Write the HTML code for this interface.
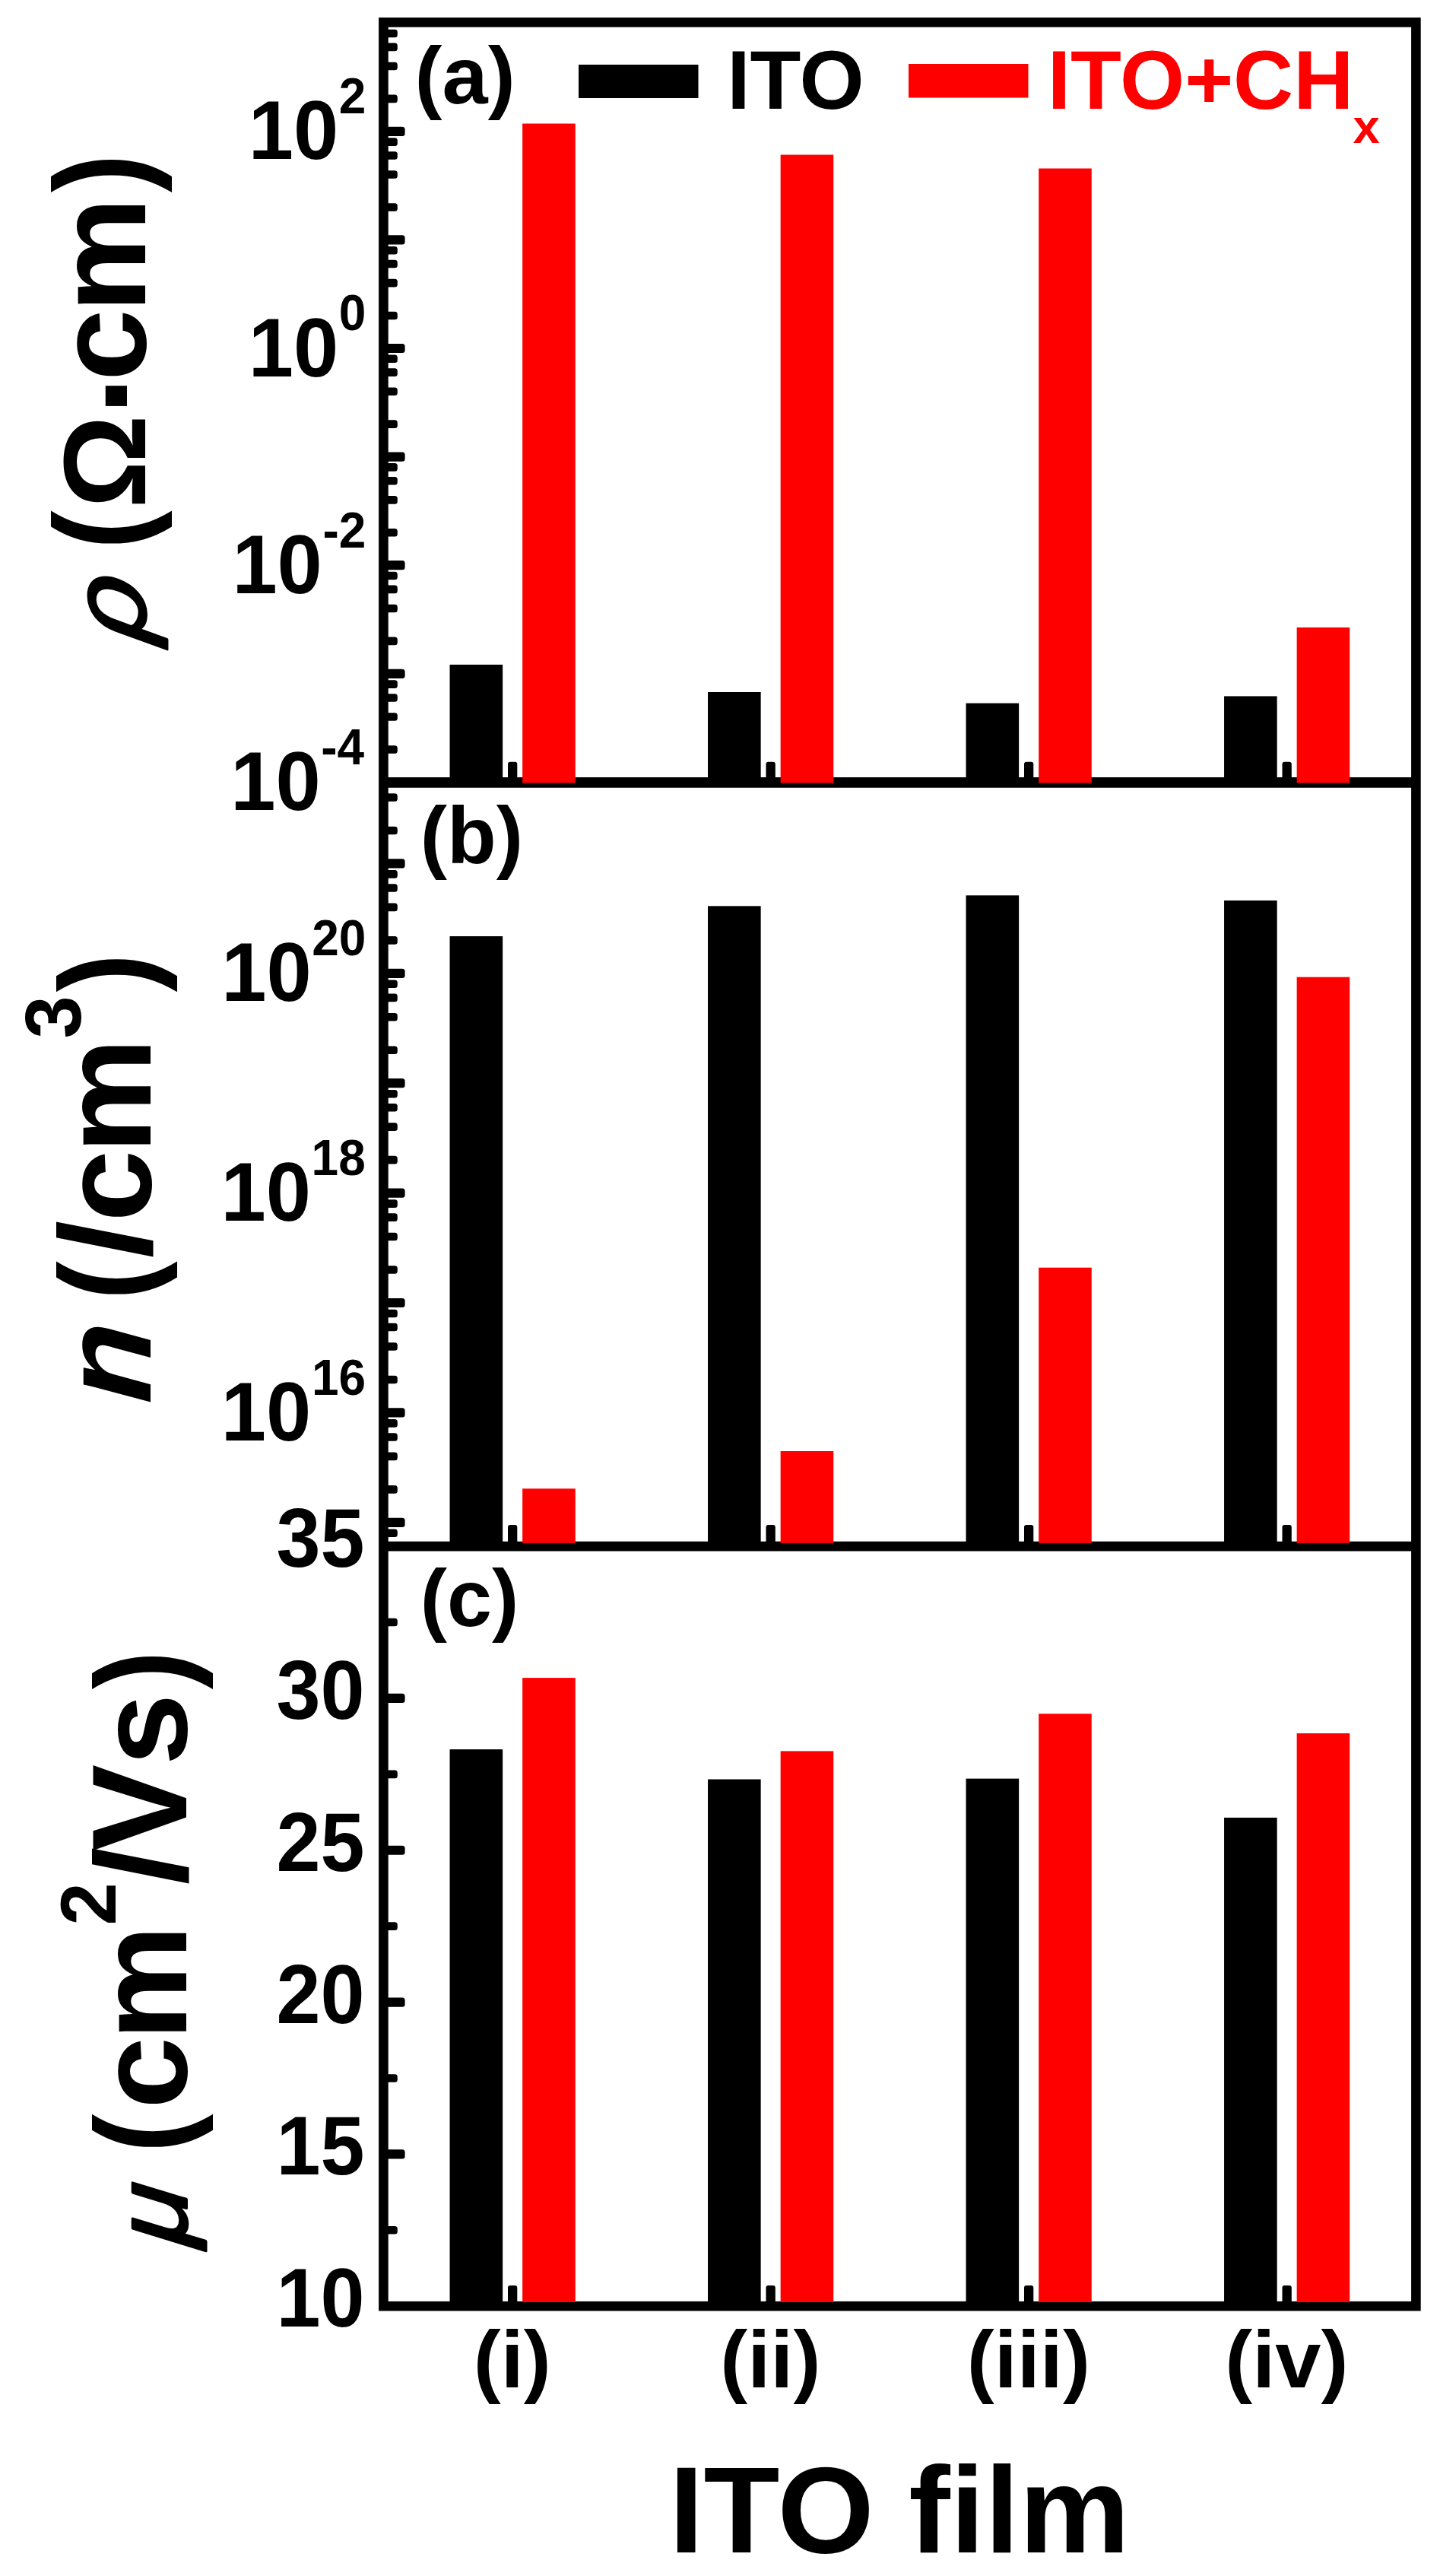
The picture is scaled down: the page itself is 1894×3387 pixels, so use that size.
<!DOCTYPE html>
<html lang="en"><head><meta charset="utf-8"><title>ITO film: resistivity, carrier density, mobility</title>
<style>html,body{margin:0;padding:0;background:#fff}svg{display:block;filter:blur(0.7px)}</style></head>
<body>
<svg width="1894" height="3387" viewBox="0 0 1894 3387" font-family="'Liberation Sans', sans-serif" font-weight="bold" fill="#000">
<rect x="0" y="0" width="1894" height="3387" fill="#fff"/>
<g id="axes" stroke="#000" fill="none">
<rect x="504.4" y="29.4" width="1358" height="3002.8" stroke-width="12.6"/>
<line x1="504.4" x2="1862.4" y1="1028.8" y2="1028.8" stroke-width="13.8"/>
<line x1="504.4" x2="1862.4" y1="2033.1" y2="2033.1" stroke-width="12.8"/>
</g>
<g id="ticks" fill="#000">
<rect x="504.4" y="980.17" width="18.4" height="10.6" rx="3.5"/>
<rect x="504.4" y="937.25" width="18.4" height="10.6" rx="3.5"/>
<rect x="504.4" y="912.14" width="18.4" height="10.6" rx="3.5"/>
<rect x="504.4" y="894.32" width="18.4" height="10.6" rx="3.5"/>
<rect x="504.4" y="879.7" width="28.2" height="12.2" rx="3.5"/>
<rect x="504.4" y="837.57" width="18.4" height="10.6" rx="3.5"/>
<rect x="504.4" y="794.65" width="18.4" height="10.6" rx="3.5"/>
<rect x="504.4" y="769.54" width="18.4" height="10.6" rx="3.5"/>
<rect x="504.4" y="751.72" width="18.4" height="10.6" rx="3.5"/>
<rect x="504.4" y="737.1" width="28.2" height="12.2" rx="3.5"/>
<rect x="504.4" y="694.97" width="18.4" height="10.6" rx="3.5"/>
<rect x="504.4" y="652.05" width="18.4" height="10.6" rx="3.5"/>
<rect x="504.4" y="626.94" width="18.4" height="10.6" rx="3.5"/>
<rect x="504.4" y="609.12" width="18.4" height="10.6" rx="3.5"/>
<rect x="504.4" y="594.5" width="28.2" height="12.2" rx="3.5"/>
<rect x="504.4" y="552.37" width="18.4" height="10.6" rx="3.5"/>
<rect x="504.4" y="509.45" width="18.4" height="10.6" rx="3.5"/>
<rect x="504.4" y="484.34" width="18.4" height="10.6" rx="3.5"/>
<rect x="504.4" y="466.52" width="18.4" height="10.6" rx="3.5"/>
<rect x="504.4" y="451.9" width="28.2" height="12.2" rx="3.5"/>
<rect x="504.4" y="409.77" width="18.4" height="10.6" rx="3.5"/>
<rect x="504.4" y="366.85" width="18.4" height="10.6" rx="3.5"/>
<rect x="504.4" y="341.74" width="18.4" height="10.6" rx="3.5"/>
<rect x="504.4" y="323.92" width="18.4" height="10.6" rx="3.5"/>
<rect x="504.4" y="309.3" width="28.2" height="12.2" rx="3.5"/>
<rect x="504.4" y="267.17" width="18.4" height="10.6" rx="3.5"/>
<rect x="504.4" y="224.25" width="18.4" height="10.6" rx="3.5"/>
<rect x="504.4" y="199.14" width="18.4" height="10.6" rx="3.5"/>
<rect x="504.4" y="181.32" width="18.4" height="10.6" rx="3.5"/>
<rect x="504.4" y="166.7" width="28.2" height="12.2" rx="3.5"/>
<rect x="504.4" y="124.57" width="18.4" height="10.6" rx="3.5"/>
<rect x="504.4" y="81.65" width="18.4" height="10.6" rx="3.5"/>
<rect x="504.4" y="56.54" width="18.4" height="10.6" rx="3.5"/>
<rect x="504.4" y="38.72" width="18.4" height="10.6" rx="3.5"/>
<rect x="504.4" y="2010.49" width="18.4" height="10.6" rx="3.5"/>
<rect x="504.4" y="1995.7" width="28.2" height="12.2" rx="3.5"/>
<rect x="504.4" y="1953.03" width="18.4" height="10.6" rx="3.5"/>
<rect x="504.4" y="1909.56" width="18.4" height="10.6" rx="3.5"/>
<rect x="504.4" y="1884.13" width="18.4" height="10.6" rx="3.5"/>
<rect x="504.4" y="1866.09" width="18.4" height="10.6" rx="3.5"/>
<rect x="504.4" y="1851.3" width="28.2" height="12.2" rx="3.5"/>
<rect x="504.4" y="1808.63" width="18.4" height="10.6" rx="3.5"/>
<rect x="504.4" y="1765.16" width="18.4" height="10.6" rx="3.5"/>
<rect x="504.4" y="1739.73" width="18.4" height="10.6" rx="3.5"/>
<rect x="504.4" y="1721.69" width="18.4" height="10.6" rx="3.5"/>
<rect x="504.4" y="1706.9" width="28.2" height="12.2" rx="3.5"/>
<rect x="504.4" y="1664.23" width="18.4" height="10.6" rx="3.5"/>
<rect x="504.4" y="1620.76" width="18.4" height="10.6" rx="3.5"/>
<rect x="504.4" y="1595.33" width="18.4" height="10.6" rx="3.5"/>
<rect x="504.4" y="1577.29" width="18.4" height="10.6" rx="3.5"/>
<rect x="504.4" y="1562.5" width="28.2" height="12.2" rx="3.5"/>
<rect x="504.4" y="1519.83" width="18.4" height="10.6" rx="3.5"/>
<rect x="504.4" y="1476.36" width="18.4" height="10.6" rx="3.5"/>
<rect x="504.4" y="1450.93" width="18.4" height="10.6" rx="3.5"/>
<rect x="504.4" y="1432.89" width="18.4" height="10.6" rx="3.5"/>
<rect x="504.4" y="1418.1" width="28.2" height="12.2" rx="3.5"/>
<rect x="504.4" y="1375.43" width="18.4" height="10.6" rx="3.5"/>
<rect x="504.4" y="1331.96" width="18.4" height="10.6" rx="3.5"/>
<rect x="504.4" y="1306.53" width="18.4" height="10.6" rx="3.5"/>
<rect x="504.4" y="1288.49" width="18.4" height="10.6" rx="3.5"/>
<rect x="504.4" y="1273.7" width="28.2" height="12.2" rx="3.5"/>
<rect x="504.4" y="1231.03" width="18.4" height="10.6" rx="3.5"/>
<rect x="504.4" y="1187.56" width="18.4" height="10.6" rx="3.5"/>
<rect x="504.4" y="1162.13" width="18.4" height="10.6" rx="3.5"/>
<rect x="504.4" y="1144.09" width="18.4" height="10.6" rx="3.5"/>
<rect x="504.4" y="1129.3" width="28.2" height="12.2" rx="3.5"/>
<rect x="504.4" y="1086.63" width="18.4" height="10.6" rx="3.5"/>
<rect x="504.4" y="1043.16" width="18.4" height="10.6" rx="3.5"/>
<rect x="504.4" y="2127.71" width="18.4" height="10.6" rx="3.5"/>
<rect x="504.4" y="2226.82" width="28.2" height="12.2" rx="3.5"/>
<rect x="504.4" y="2327.53" width="18.4" height="10.6" rx="3.5"/>
<rect x="504.4" y="2426.64" width="28.2" height="12.2" rx="3.5"/>
<rect x="504.4" y="2527.35" width="18.4" height="10.6" rx="3.5"/>
<rect x="504.4" y="2626.46" width="28.2" height="12.2" rx="3.5"/>
<rect x="504.4" y="2727.17" width="18.4" height="10.6" rx="3.5"/>
<rect x="504.4" y="2826.28" width="28.2" height="12.2" rx="3.5"/>
<rect x="504.4" y="2926.99" width="18.4" height="10.6" rx="3.5"/>
<rect x="668" y="1001.7" width="12.3" height="27.1" rx="3"/>
<rect x="1007.5" y="1001.7" width="12.3" height="27.1" rx="3"/>
<rect x="1347" y="1001.7" width="12.3" height="27.1" rx="3"/>
<rect x="1686.5" y="1001.7" width="12.3" height="27.1" rx="3"/>
<rect x="668" y="2005" width="12.3" height="28.1" rx="3"/>
<rect x="1007.5" y="2005" width="12.3" height="28.1" rx="3"/>
<rect x="1347" y="2005" width="12.3" height="28.1" rx="3"/>
<rect x="1686.5" y="2005" width="12.3" height="28.1" rx="3"/>
<rect x="668" y="3005" width="12.3" height="27.2" rx="3"/>
<rect x="1007.5" y="3005" width="12.3" height="27.2" rx="3"/>
<rect x="1347" y="3005" width="12.3" height="27.2" rx="3"/>
<rect x="1686.5" y="3005" width="12.3" height="27.2" rx="3"/>
</g>
<g id="bars">
<rect x="591.55" y="873.9" width="69.6" height="154.9"/>
<rect x="687.15" y="162.5" width="69.6" height="866.9" fill="#ff0000"/>
<rect x="931.05" y="910" width="69.6" height="118.8"/>
<rect x="1026.65" y="203.5" width="69.6" height="825.9" fill="#ff0000"/>
<rect x="1270.55" y="924.6" width="69.6" height="104.2"/>
<rect x="1366.15" y="221.5" width="69.6" height="807.9" fill="#ff0000"/>
<rect x="1610.05" y="915.4" width="69.6" height="113.4"/>
<rect x="1705.65" y="825" width="69.6" height="204.4" fill="#ff0000"/>
<rect x="591.55" y="1231" width="69.6" height="802.1"/>
<rect x="687.15" y="1957.3" width="69.6" height="71.6" fill="#ff0000"/>
<rect x="931.05" y="1191.3" width="69.6" height="841.8"/>
<rect x="1026.65" y="1908" width="69.6" height="120.9" fill="#ff0000"/>
<rect x="1270.55" y="1177.3" width="69.6" height="855.8"/>
<rect x="1366.15" y="1666.7" width="69.6" height="362.2" fill="#ff0000"/>
<rect x="1610.05" y="1184" width="69.6" height="849.1"/>
<rect x="1705.65" y="1284.7" width="69.6" height="744.2" fill="#ff0000"/>
<rect x="591.55" y="2300.1" width="69.6" height="732.1"/>
<rect x="687.15" y="2206.1" width="69.6" height="820.9" fill="#ff0000"/>
<rect x="931.05" y="2339.5" width="69.6" height="692.7"/>
<rect x="1026.65" y="2302.4" width="69.6" height="724.6" fill="#ff0000"/>
<rect x="1270.55" y="2338.6" width="69.6" height="693.6"/>
<rect x="1366.15" y="2253.3" width="69.6" height="773.7" fill="#ff0000"/>
<rect x="1610.05" y="2389.9" width="69.6" height="642.3"/>
<rect x="1705.65" y="2279" width="69.6" height="748" fill="#ff0000"/>
</g>
<g id="legend">
<rect x="761" y="85" width="157.5" height="44"/>
<rect x="1195" y="84" width="157.5" height="44.5" fill="#ff0000"/>
<text x="956.18" y="143" font-size="109.5">ITO</text>
<text x="1377.68" y="143" font-size="109.5" fill="#ff0000">ITO+CH</text>
<text x="1779.57" y="187.5" font-size="63.5" fill="#ff0000">x</text>
</g>
<text transform="translate(545.62 135.5) scale(1.02 1)" font-size="106">(a)</text>
<text x="552.72" y="1134.5" font-size="106">(b)</text>
<text x="552.72" y="2138" font-size="106">(c)</text>
<g id="ylabels">
<text transform="translate(445.77 149.1) scale(1 1.03)" font-size="64">2</text>
<text transform="translate(326.71 209.4) scale(1 1.03)" font-size="106.5">10</text>
<text transform="translate(445.83 434.3) scale(1 1.03)" font-size="64">0</text>
<text transform="translate(326.77 494.6) scale(1 1.03)" font-size="106.5">10</text>
<text transform="translate(424.46 719.5) scale(1 1.03)" font-size="64">-2</text>
<text transform="translate(305.4 779.8) scale(1 1.03)" font-size="106.5">10</text>
<text transform="translate(422.24 1004.7) scale(1 1.03)" font-size="64">-4</text>
<text transform="translate(303.18 1065) scale(1 1.03)" font-size="106.5">10</text>
<text transform="translate(410.24 1256.1) scale(1 1.03)" font-size="64">20</text>
<text transform="translate(291.18 1316.4) scale(1 1.03)" font-size="106.5">10</text>
<text transform="translate(409.58 1544.9) scale(1 1.03)" font-size="64">18</text>
<text transform="translate(290.52 1605.2) scale(1 1.03)" font-size="106.5">10</text>
<text transform="translate(409.93 1833.7) scale(1 1.03)" font-size="64">16</text>
<text transform="translate(290.86 1894) scale(1 1.03)" font-size="106.5">10</text>
<text transform="translate(479.6 2060.1) scale(0.98 1.03)" font-size="106.5" text-anchor="end">35</text>
<text transform="translate(479.6 2259.92) scale(0.98 1.03)" font-size="106.5" text-anchor="end">30</text>
<text transform="translate(479.6 2459.74) scale(0.98 1.03)" font-size="106.5" text-anchor="end">25</text>
<text transform="translate(479.6 2659.56) scale(0.98 1.03)" font-size="106.5" text-anchor="end">20</text>
<text transform="translate(479.6 2859.38) scale(0.98 1.03)" font-size="106.5" text-anchor="end">15</text>
<text transform="translate(479.6 3059.2) scale(0.98 1.03)" font-size="106.5" text-anchor="end">10</text>
</g>
<g id="xlabels">
<text transform="translate(622.83 3138.8) scale(1.02 1)" font-size="106">(i)</text>
<text transform="translate(947.31 3138.8) scale(1.02 1)" font-size="106">(ii)</text>
<text transform="translate(1271.79 3138.8) scale(1.02 1)" font-size="106">(iii)</text>
<text transform="translate(1611.26 3138.8) scale(1.02 1)" font-size="106">(iv)</text>
</g>
<text transform="translate(880.05 3355.5) scale(1.01 1)" font-size="162">ITO film</text>
<g id="ytitles">
<text transform="translate(190.7 852.5) rotate(-90) skewX(-20) scale(1.05 1)" font-size="139" stroke="#000" stroke-width="3.2" stroke-linejoin="round" font-weight="normal">ρ</text>
<text transform="translate(190.7 722.21) rotate(-90) scale(0.9 1)" font-size="170">(</text>
<text transform="translate(190.7 668.6) rotate(-90)" font-size="153.6">Ω</text>
<text transform="translate(215.9 546.9) rotate(-90)" font-size="190">·</text>
<text transform="translate(190.7 500.9) rotate(-90) scale(1 0.985)" font-size="170">c</text>
<text transform="translate(190.7 410.81) rotate(-90) scale(1 0.985)" font-size="170">m</text>
<text transform="translate(190.7 253.24) rotate(-90) scale(0.9 1)" font-size="170">)</text>
<text transform="translate(197.8 1846.5) rotate(-90) skewX(-4) scale(1.02 1)" font-size="167" font-style="italic">n</text>
<text transform="translate(197.8 1709.21) rotate(-90) scale(0.9 1)" font-size="170">(</text>
<text transform="translate(197.8 1654.3) rotate(-90) scale(1.05 1)" font-size="170">/</text>
<text transform="translate(197.8 1606.4) rotate(-90) scale(1 0.985)" font-size="170">c</text>
<text transform="translate(197.8 1516.21) rotate(-90) scale(1 0.985)" font-size="170">m</text>
<text transform="translate(105.6 1365.62) rotate(-90) scale(1 1.02)" font-size="101">3</text>
<text transform="translate(197.8 1304.44) rotate(-90) scale(0.9 1)" font-size="170">)</text>
<text transform="translate(244.6 2960.5) rotate(-90) skewX(-17) scale(1.03 1)" font-size="133" stroke="#000" stroke-width="4.0" stroke-linejoin="round" font-weight="normal">μ</text>
<text transform="translate(244.6 2830.41) rotate(-90) scale(0.9 1)" font-size="170">(</text>
<text transform="translate(244.6 2772.7) rotate(-90) scale(1 0.985)" font-size="170">c</text>
<text transform="translate(244.6 2682.41) rotate(-90) scale(1 0.985)" font-size="170">m</text>
<text transform="translate(151.7 2531.61) rotate(-90) scale(1 1.02)" font-size="101">2</text>
<text transform="translate(244.6 2478.2) rotate(-90) scale(1.05 1)" font-size="170">/</text>
<text transform="translate(244.6 2434.26) rotate(-90) scale(1.01 1.045)" font-size="170">V</text>
<text transform="translate(244.6 2321.27) rotate(-90) scale(1 0.985)" font-size="170">s</text>
<text transform="translate(244.6 2221.34) rotate(-90) scale(0.9 1)" font-size="170">)</text>
</g>
</svg>
</body></html>
